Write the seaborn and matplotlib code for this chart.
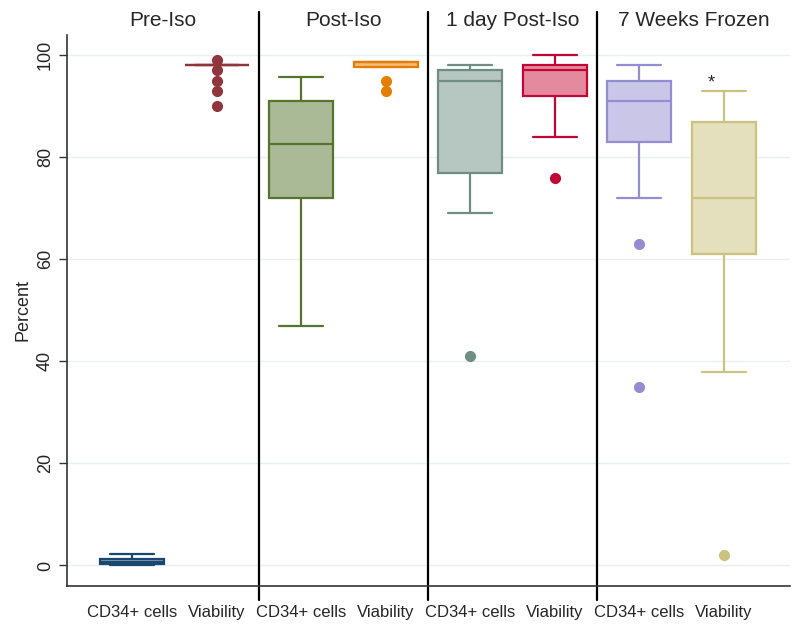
import pandas as pd
import seaborn as sns
import matplotlib.pyplot as plt

# Values (percent)
stages = ['Pre-Iso', 'Post-Iso', '1 day Post-Iso', '7 Weeks Frozen']
measures = ['CD34+ cells', 'Viability']

pre_cd34 = [0.0, 0.1, 0.3, 0.4, 0.6, 0.9, 1.3, 1.8, 2.2]
pre_via = [98] * 12 + [99, 97, 95, 93, 90]
post_cd34 = [47, 60, 72, 78, 82.5, 86, 91, 94, 95.8]
post_via = [93, 95, 97.7, 97.7, 98.6, 98.6, 98.6, 98.6, 98.6]
day1_cd34 = [41, 69, 77, 90, 95, 96, 97, 97.5, 98]
day1_via = [76, 84, 92, 95, 97, 97.5, 98, 99, 100]
frozen_cd34 = [35, 63, 72, 83, 86, 88, 91, 92, 93, 95, 96, 97, 98]
frozen_via = [2, 38, 61, 66, 72, 80, 87, 90, 93]

series = [pre_cd34, pre_via, post_cd34, post_via,
          day1_cd34, day1_via, frozen_cd34, frozen_via]

# Stata s2color line colours and 50% tints for the fill
edge_colors = ['#1a476f', '#90353b', '#55752f', '#e37e00',
               '#6e8e84', '#c10534', '#938dd2', '#cac27e']
fill_colors = ['#8ca3b7', '#c79a9d', '#aaba97', '#f1be80',
               '#b6c6c1', '#e38a9e', '#c9c6e8', '#e4e0be']

groups = [f'{s} {m}' for s in stages for m in measures]
rows = []
for g, vals in zip(groups, series):
    for v in vals:
        rows.append({'group': g, 'value': v})
df = pd.DataFrame(rows)

sns.set_style('white')
plt.rcParams['font.family'] = ['Liberation Sans', 'DejaVu Sans']

fig = plt.figure(figsize=(8, 6.32), dpi=100)
ax = fig.add_axes([0.084, 0.073, 0.904, 0.872])

for g, fc, ec in zip(groups, fill_colors, edge_colors):
    sns.boxplot(data=df[df['group'] == g], x='group', y='value', order=groups,
                color=fc, linecolor=ec, saturation=1, width=0.76,
                linewidth=1.6, ax=ax,
                flierprops=dict(marker='o', markerfacecolor=ec,
                                markeredgecolor=ec, markersize=7))

# caps a bit wider than seaborn's default
for line in ax.lines:
    x = line.get_xdata()
    if len(x) == 2 and x[0] != x[1]:
        y = line.get_ydata()
        if y[0] == y[1]:
            c = (x[0] + x[1]) / 2
            if abs(x[1] - x[0]) < 0.5:
                line.set_xdata([c - 0.26, c + 0.26])

ax.set_xlim(-0.77, 7.79)
ax.set_ylim(-4, 104)
ax.set_yticks([0, 20, 40, 60, 80, 100])
ax.set_yticklabels(['0', '20', '40', '60', '80', '100'], rotation=90, va='center')
ax.set_xticks(range(8))
ax.set_xticklabels(measures * 4)
ax.set_xlabel('')
ax.set_ylabel('Percent', fontsize=13)
ax.tick_params(axis='y', labelsize=13, length=6, width=1, direction='out',
               left=True, color='#333333')
ax.tick_params(axis='x', labelsize=12, length=0, pad=14)
ax.grid(axis='y', color='#eaf0f2', linewidth=1)
ax.set_axisbelow(True)
for side in ['top', 'right']:
    ax.spines[side].set_visible(False)
for side in ['left', 'bottom']:
    ax.spines[side].set_color('#333333')
    ax.spines[side].set_linewidth(1.2)

# panel separators and titles
for xs in [1.5, 3.5, 5.5]:
    ax.plot([xs, xs], [-6.7, 108.5], color='black', linewidth=1.6, clip_on=False)
bounds = [-0.77, 1.5, 3.5, 5.5, 7.79]
for i, s in enumerate(stages):
    ax.text((bounds[i] + bounds[i + 1]) / 2, 106.7, s, ha='center', va='center',
            fontsize=15)

ax.text(6.85, 94.5, '*', ha='center', va='center', fontsize=13)

plt.savefig('out.png', dpi=100)
